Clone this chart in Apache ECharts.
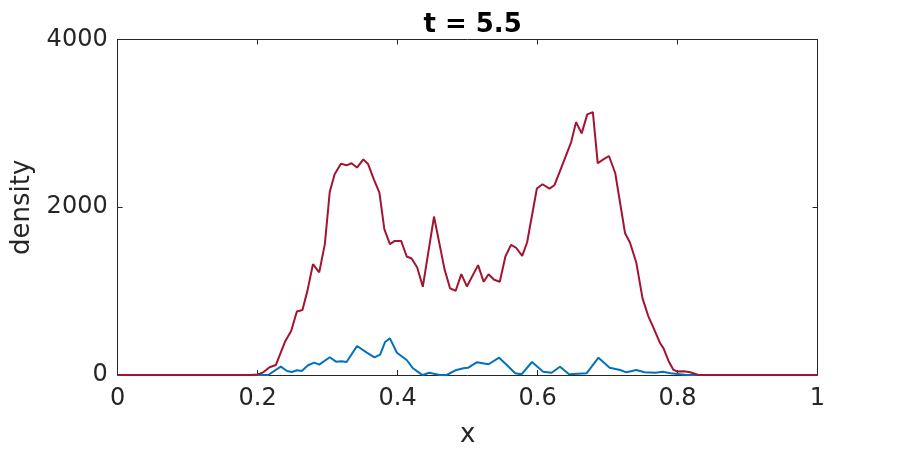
<!DOCTYPE html>
<html lang="en">
<head>
    <meta charset="UTF-8">
    <title>density t = 5.5</title>
    <script src="https://cdn.jsdelivr.net/npm/echarts@6/dist/echarts.min.js"></script>
</head>
<body style="margin:0">
    <div id="main" style="width: 903px; height: 450px;"></div>
    <script>
        // red curve (x, density)
        var redX = [0, 0.1, 0.189, 0.200, 0.208, 0.217, 0.226, 0.239, 0.248, 0.256, 0.264, 0.271, 0.279, 0.288, 0.296,
            0.303, 0.310, 0.319, 0.327, 0.334, 0.342, 0.351, 0.358, 0.366, 0.374, 0.381, 0.389, 0.396, 0.405,
            0.413, 0.420, 0.428, 0.436, 0.452, 0.467, 0.475, 0.483, 0.491, 0.499, 0.515, 0.523, 0.530, 0.538,
            0.546, 0.554, 0.562, 0.569, 0.578, 0.585, 0.599, 0.607, 0.617, 0.624, 0.632, 0.648, 0.655, 0.663,
            0.671, 0.679, 0.686, 0.694, 0.702, 0.711, 0.725, 0.732, 0.741, 0.750, 0.758, 0.766, 0.775, 0.780,
            0.787, 0.794, 0.799, 0.809, 0.818, 0.830, 0.9, 1];
        var redY = [0, 0, 0, 6, 32, 92, 119, 396, 527, 758, 774, 1000, 1321, 1223, 1560,
            2182, 2393, 2520, 2500, 2524, 2473, 2571, 2512, 2333, 2175, 1738, 1560, 1599, 1599,
            1413, 1389, 1282, 1051, 1889, 1262, 1032, 1004, 1202, 1056, 1310, 1111, 1202, 1135,
            1111, 1413, 1551, 1520, 1420, 1580, 2223, 2274, 2223, 2262, 2432, 2777, 3015, 2881,
            3107, 3135, 2524, 2571, 2611, 2405, 1690, 1580, 1342, 913, 706, 556, 381, 318,
            170, 63, 42, 44, 32, 0, 0, 0];

        // blue curve (x, density)
        var blueX = [0, 0.1, 0.208, 0.215, 0.233, 0.242, 0.249, 0.256, 0.263, 0.272, 0.281, 0.288, 0.303, 0.312,
            0.320, 0.327, 0.342, 0.356, 0.367, 0.375, 0.382, 0.389, 0.399, 0.413, 0.422, 0.432, 0.436,
            0.445, 0.460, 0.470, 0.484, 0.494, 0.501, 0.513, 0.530, 0.545, 0.556, 0.568, 0.577, 0.592,
            0.608, 0.620, 0.632, 0.645, 0.670, 0.687, 0.703, 0.718, 0.727, 0.741, 0.753, 0.768, 0.779,
            0.790, 0.813, 0.9, 1];
        var blueY = [0, 0, 0, 0, 99, 48, 36, 56, 48, 116, 147, 123, 211, 159,
            163, 155, 346, 266, 211, 242, 393, 437, 266, 179, 80, 20, 0,
            27, 0, 0, 60, 80, 87, 151, 128, 206, 119, 20, 8, 155,
            39, 27, 99, 8, 20, 206, 87, 60, 32, 60, 32, 27, 39,
            20, 0, 0, 0];

        var xTicks = { min: 0, max: 1, interval: 0.2 };
        var yTicks = { min: 0, max: 4000, interval: 2000 };

        function pairs(xs, ys) {
            return xs.map(function (x, i) { return [x, ys[i]]; });
        }

        var ink = '#262626';
        var font = 'DejaVu Sans';

        // matlab-like box: line on every side, ticks pointing in
        function boxAxis(extra) {
            var a = {
                type: 'value',
                axisLine: { show: true, onZero: false, lineStyle: { color: ink, width: 1 } },
                axisTick: { show: true, inside: true, length: 5, lineStyle: { color: ink } },
                axisLabel: { show: false },
                splitLine: { show: false }
            };
            for (var k in extra) a[k] = extra[k];
            return a;
        }

        var myChart = echarts.init(document.getElementById('main'));

        var option = {
            animation: false,
            backgroundColor: '#fff',
            title: {
                text: 't = 5.5',
                left: 467.6,
                top: 7,
                textAlign: 'center',
                textStyle: { fontFamily: font, fontSize: 26, fontWeight: 'bold', color: '#000' }
            },
            grid: { left: 117.7, right: 85.5, top: 39.5, bottom: 75, outerBoundsMode: 'none', containLabel: false },
            xAxis: [
                boxAxis({
                    min: xTicks.min, max: xTicks.max, interval: xTicks.interval,
                    name: 'x', nameLocation: 'middle', nameGap: 47,
                    nameTextStyle: { fontFamily: font, fontSize: 26, color: ink },
                    axisLabel: { show: true, fontFamily: font, fontSize: 24, color: ink, margin: 12,
                        formatter: function (v) { return String(v); } }
                }),
                boxAxis({ position: 'top', min: xTicks.min, max: xTicks.max, interval: xTicks.interval })
            ],
            yAxis: [
                boxAxis({
                    min: yTicks.min, max: yTicks.max, interval: yTicks.interval,
                    name: 'density', nameLocation: 'middle', nameGap: 82,
                    nameTextStyle: { fontFamily: font, fontSize: 26, color: ink },
                    axisLabel: { show: true, fontFamily: font, fontSize: 24, color: ink, margin: 10,
                        formatter: function (v) { return String(v); } }
                }),
                boxAxis({ position: 'right', min: yTicks.min, max: yTicks.max, interval: yTicks.interval })
            ],
            series: [
                {
                    name: 'blue', type: 'line', xAxisIndex: 0, yAxisIndex: 0,
                    data: pairs(blueX, blueY),
                    showSymbol: false, smooth: false,
                    lineStyle: { color: '#0072BD', width: 2 },
                    itemStyle: { color: '#0072BD' }
                },
                {
                    name: 'red', type: 'line', xAxisIndex: 0, yAxisIndex: 0,
                    data: pairs(redX, redY),
                    showSymbol: false, smooth: false,
                    lineStyle: { color: '#A2142F', width: 2 },
                    itemStyle: { color: '#A2142F' }
                }
            ]
        };

        myChart.setOption(option);
    </script>
</body>
</html>
